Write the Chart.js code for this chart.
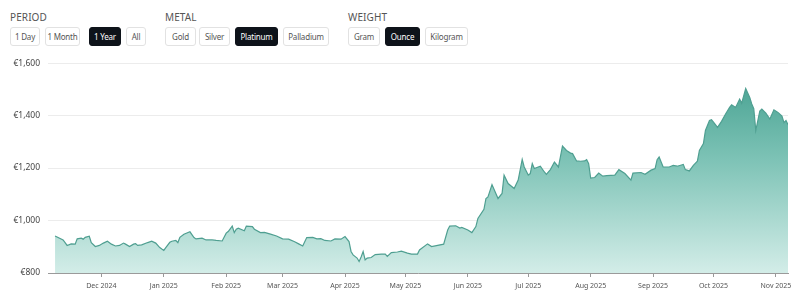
<!DOCTYPE html>
<html>
<head>
<meta charset="utf-8">
<script src="https://cdn.jsdelivr.net/npm/chart.js@4.4.1/dist/chart.umd.min.js"></script>
<style>
  html, body { margin: 0; padding: 0; background: #fff; }
  body { width: 800px; height: 295px; position: relative; overflow: hidden; font-family: "Noto Sans", "Open Sans", sans-serif; }
  .lbl { position: absolute; top: 10px; font-size: 10px; color: #555; letter-spacing: 0.1px; }
  .btn { position: absolute; top: 27px; height: 19px; box-sizing: border-box; border: 1px solid #e2e2e2; border-radius: 3px;
         display: flex; align-items: center; justify-content: center; font-size: 8px; color: #555; background: #fff;
         white-space: nowrap; letter-spacing: -0.2px; }
  .btn.on { background: #0e131a; border-color: #0e131a; color: #fff; }
  #wrap { position: absolute; left: 0; top: 50px; width: 800px; height: 245px; }
</style>
</head>
<body>
<div class="lbl" style="left:10px">PERIOD</div>
<div class="btn" style="left:10px;width:30px">1 Day</div>
<div class="btn" style="left:45px;width:35px">1 Month</div>
<div class="btn on" style="left:89px;width:32px">1 Year</div>
<div class="btn" style="left:126px;width:20px">All</div>
<div class="lbl" style="left:165px">METAL</div>
<div class="btn" style="left:165px;width:31px">Gold</div>
<div class="btn" style="left:199px;width:31px">Silver</div>
<div class="btn on" style="left:235px;width:43px">Platinum</div>
<div class="btn" style="left:283px;width:46px">Palladium</div>
<div class="lbl" style="left:348px">WEIGHT</div>
<div class="btn" style="left:348px;width:32px">Gram</div>
<div class="btn on" style="left:385px;width:35px">Ounce</div>
<div class="btn" style="left:425px;width:43px">Kilogram</div>
<div id="wrap"><canvas id="c" width="800" height="245"></canvas></div>
<script>
const dates = [
"2024-11-08","2024-11-12","2024-11-14","2024-11-16","2024-11-18","2024-11-19","2024-11-21","2024-11-22","2024-11-23","2024-11-25","2024-11-26","2024-11-28","2024-11-30",
"2024-12-02","2024-12-04","2024-12-06","2024-12-08","2024-12-10","2024-12-12","2024-12-13","2024-12-15","2024-12-17","2024-12-18","2024-12-19","2024-12-21","2024-12-24","2024-12-26","2024-12-28","2024-12-30",
"2025-01-01","2025-01-02","2025-01-04","2025-01-05","2025-01-07","2025-01-08","2025-01-09","2025-01-11","2025-01-14","2025-01-16","2025-01-17","2025-01-20","2025-01-22","2025-01-25","2025-01-27","2025-01-30",
"2025-02-01","2025-02-02","2025-02-04","2025-02-05","2025-02-06","2025-02-07","2025-02-10","2025-02-11","2025-02-14","2025-02-15","2025-02-18","2025-02-20","2025-02-23","2025-02-26",
"2025-03-01","2025-03-04","2025-03-07","2025-03-09","2025-03-11","2025-03-13","2025-03-16","2025-03-18","2025-03-20","2025-03-22","2025-03-25","2025-03-27","2025-03-30",
"2025-04-01","2025-04-03","2025-04-04","2025-04-05","2025-04-07","2025-04-08","2025-04-09","2025-04-10","2025-04-11","2025-04-12","2025-04-14","2025-04-16","2025-04-19","2025-04-21","2025-04-22","2025-04-24","2025-04-27","2025-04-29",
"2025-05-02","2025-05-04","2025-05-07","2025-05-08","2025-05-12","2025-05-14","2025-05-20","2025-05-22","2025-05-23","2025-05-26","2025-05-28","2025-05-29",
"2025-06-01","2025-06-03","2025-06-05","2025-06-06","2025-06-09","2025-06-10","2025-06-11","2025-06-13","2025-06-16","2025-06-18","2025-06-19","2025-06-21","2025-06-24","2025-06-26","2025-06-28","2025-06-29",
"2025-07-01","2025-07-02","2025-07-03","2025-07-04","2025-07-07","2025-07-09","2025-07-10","2025-07-12","2025-07-14","2025-07-16","2025-07-18","2025-07-20","2025-07-22","2025-07-23","2025-07-25","2025-07-27","2025-07-29","2025-07-30","2025-07-31",
"2025-08-01","2025-08-03","2025-08-05","2025-08-07","2025-08-09","2025-08-13","2025-08-15","2025-08-18","2025-08-21","2025-08-22","2025-08-26","2025-08-28","2025-08-31",
"2025-09-02","2025-09-03","2025-09-04","2025-09-05","2025-09-06","2025-09-09","2025-09-11","2025-09-13","2025-09-16","2025-09-17","2025-09-19","2025-09-21","2025-09-23","2025-09-24","2025-09-26","2025-09-27","2025-09-29","2025-09-30",
"2025-10-01","2025-10-03","2025-10-05","2025-10-07","2025-10-09","2025-10-10","2025-10-12","2025-10-14","2025-10-15","2025-10-17","2025-10-19","2025-10-20","2025-10-21","2025-10-22","2025-10-24","2025-10-25","2025-10-27","2025-10-29","2025-10-31",
"2025-11-02","2025-11-04","2025-11-05","2025-11-06","2025-11-07"
];
const prices = [
941,926,905,911,910,930,933,929,936,940,916,901,905,
914,921,910,903,905,914,910,901,910,912,905,907,916,921,914,897,
886,897,917,921,924,916,936,948,957,935,930,933,926,926,924,922,
952,958,979,954,967,971,961,979,977,967,954,955,948,941,
930,929,919,911,903,935,936,930,931,924,922,930,929,
939,920,882,869,857,844,861,882,850,857,859,870,872,872,863,878,880,883,
876,872,872,888,911,901,910,964,979,980,971,974,
964,954,977,1008,1043,1084,1090,1137,1084,1103,1173,1141,1122,1154,1233,1204,
1173,1179,1217,1198,1207,1185,1176,1194,1223,1204,1284,1267,1257,1255,1227,1226,1227,1232,1217,
1162,1164,1181,1169,1171,1173,1194,1179,1154,1181,1183,1176,1192,
1198,1232,1242,1223,1204,1204,1210,1207,1214,1194,1189,1210,1226,1267,1293,1343,1381,1384,
1375,1355,1378,1406,1431,1441,1431,1463,1447,1503,1469,1444,1426,1343,1417,1425,1409,1387,1422,
1412,1398,1373,1381,1365
];
const tickDates = ["2024-12-01","2025-01-01","2025-02-01","2025-03-01","2025-04-01","2025-05-01","2025-06-01","2025-07-01","2025-08-01","2025-09-01","2025-10-01","2025-11-01"];
const tickLabels = ["Dec 2024","Jan 2025","Feb 2025","Mar 2025","Apr 2025","May 2025","Jun 2025","Jul 2025","Aug 2025","Sep 2025","Oct 2025","Nov 2025"];
const yTicks = [800, 1000, 1200, 1400, 1600];

const base = Date.UTC(2024, 10, 8);
function dayOf(s) { const p = s.split('-').map(Number); return (Date.UTC(p[0], p[1]-1, p[2]) - base) / 86400000; }
const points = dates.map((d, i) => ({ x: dayOf(d), y: prices[i] }));
const tickDays = tickDates.map(dayOf);
const lastDay = dayOf(dates[dates.length - 1]);

const ctx = document.getElementById('c').getContext('2d');
new Chart(ctx, {
  type: 'line',
  data: {
    datasets: [{
      data: points,
      borderColor: '#4f9f91',
      borderWidth: 1.2,
      pointRadius: 0,
      tension: 0,
      fill: 'start',
      backgroundColor: (c) => {
        const a = c.chart.chartArea;
        if (!a) return 'rgba(80,170,150,0.5)';
        const g = c.chart.ctx.createLinearGradient(0, a.top, 0, a.bottom);
        g.addColorStop(0, '#3e9c8b');
        g.addColorStop(0.45, '#7cc2b5');
        g.addColorStop(1, '#d3ede8');
        return g;
      }
    }]
  },
  options: {
    responsive: false,
    animation: false,
    layout: { padding: { top: 12, right: 12, left: 0, bottom: 0 } },
    plugins: { legend: { display: false }, tooltip: { enabled: false } },
    scales: {
      x: {
        type: 'linear',
        min: -3.5,
        max: lastDay,
        afterBuildTicks: (s) => { s.ticks = tickDays.map(v => ({ value: v })); },
        afterFit: (s) => { s.height = 22; },
        ticks: {
          autoSkip: false, maxRotation: 0, padding: 5,
          color: '#555', font: { family: "Noto Sans", size: 7 },
          callback: (v) => { const i = tickDays.indexOf(v); return i >= 0 ? tickLabels[i] : ''; }
        },
        grid: { drawOnChartArea: false, drawTicks: true, tickLength: 4, color: '#999' },
        border: { display: true, color: '#9a9a9a', width: 1 }
      },
      y: {
        min: 800, max: 1600,
        afterBuildTicks: (s) => { s.ticks = yTicks.map(v => ({ value: v })); },
        afterFit: (s) => { s.width = 48; },
        ticks: {
          padding: 8, color: '#444', font: { family: "Noto Sans", size: 8.5 },
          callback: (v) => '€' + v.toLocaleString('en-US')
        },
        grid: { color: '#ececec', drawTicks: false },
        border: { display: false }
      }
    }
  }
});
</script>
</body>
</html>
